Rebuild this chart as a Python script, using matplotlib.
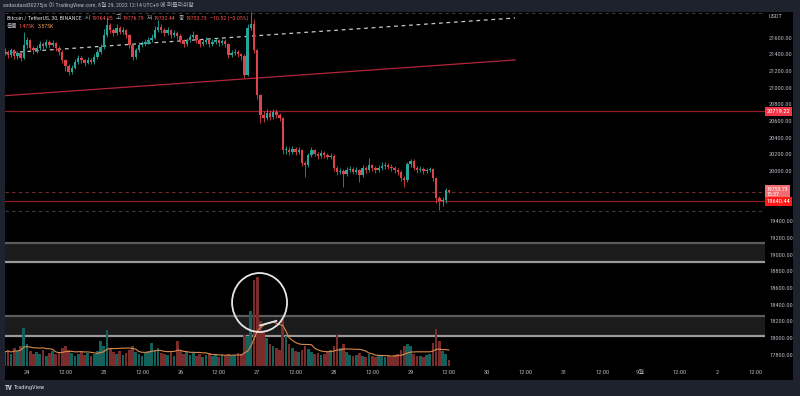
import numpy as np
import pandas as pd
import matplotlib
matplotlib.use("Agg")
import matplotlib.pyplot as plt
import matplotlib.transforms as mtransforms
from matplotlib import font_manager as fm
from matplotlib.patches import Rectangle, Ellipse

installed = {f.name for f in fm.fontManager.ttflist}
base_font = next((f for f in ['Liberation Sans Narrow', 'Roboto Condensed', 'Liberation Sans']
                  if f in installed), 'DejaVu Sans')
plt.rcParams['font.family'] = [base_font, 'Noto Sans CJK KR', 'DejaVu Sans']

# Data -----

# hourly candles, first one opens Aug 23 17:00 (hours counted from Aug 24 00:00)
start_hour = -7
first_open = 21440
closes = [21428, 21392, 21452, 21380, 21416, 21356, 21512, 21572, 21476, 21452,
          21476, 21524, 21500, 21548, 21512, 21536, 21476, 21428, 21332, 21260,
          21188, 21236, 21308, 21356, 21332, 21296, 21332, 21308, 21368, 21428,
          21488, 21632, 21752, 21692, 21656, 21716, 21668, 21692, 21632, 21512,
          21368, 21452, 21512, 21524, 21548, 21572, 21596, 21692, 21728, 21692,
          21656, 21692, 21632, 21656, 21620, 21572, 21524, 21572, 21608, 21632,
          21572, 21524, 21548, 21572, 21524, 21548, 21572, 21536, 21560, 21524,
          21392, 21416, 21428, 21404, 21380, 21152, 21716, 21764, 21452, 20912,
          20672, 20636, 20696, 20648, 20708, 20672, 20636, 20252, 20252, 20228,
          20264, 20228, 20252, 20096, 20072, 20192, 20252, 20204, 20180, 20216,
          20192, 20168, 20180, 20036, 19988, 20000, 19964, 20012, 20024, 19988,
          20012, 19952, 20036, 20012, 20072, 20036, 20012, 20036, 20060, 20072,
          20048, 20036, 20012, 19988, 19916, 19892, 20084, 20120, 20036, 20012,
          20024, 19999, 20012, 20024, 19916, 19676, 19640, 19652, 19772, 19753.73]
highs = [21480, 21450, 21480, 21470, 21440, 21430, 21670, 21610, 21590, 21500,
         21510, 21560, 21550, 21590, 21570, 21570, 21550, 21500, 21450, 21350,
         21280, 21270, 21340, 21390, 21380, 21350, 21370, 21360, 21400, 21460,
         21520, 21700, 21850, 21780, 21720, 21760, 21740, 21730, 21710, 21650,
         21530, 21480, 21550, 21560, 21580, 21610, 21640, 21740, 21810, 21760,
         21720, 21730, 21710, 21690, 21680, 21640, 21590, 21600, 21640, 21680,
         21650, 21590, 21580, 21610, 21590, 21580, 21600, 21590, 21590, 21580,
         21540, 21450, 21460, 21450, 21420, 21400, 21760, 21905, 21830, 21470,
         20930, 20720, 20740, 20730, 20750, 20740, 20700, 20650, 20300, 20290,
         20300, 20290, 20290, 20270, 20120, 20220, 20290, 20270, 20230, 20250,
         20240, 20220, 20220, 20200, 20060, 20040, 20030, 20050, 20060, 20050,
         20050, 20030, 20070, 20060, 20156, 20090, 20060, 20070, 20110, 20110,
         20100, 20080, 20060, 20040, 20010, 19940, 20110, 20144, 20140, 20060,
         20060, 20050, 20040, 20050, 20040, 19930, 19700, 19690, 19800, 19776.79]
lows = [21390, 21360, 21370, 21340, 21350, 21320, 21340, 21480, 21450, 21410,
        21420, 21450, 21470, 21480, 21480, 21490, 21440, 21390, 21300, 21200,
        21150, 21170, 21220, 21290, 21300, 21260, 21280, 21280, 21290, 21350,
        21410, 21470, 21610, 21660, 21620, 21630, 21640, 21650, 21600, 21480,
        21330, 21350, 21430, 21490, 21500, 21530, 21550, 21580, 21670, 21660,
        21620, 21630, 21600, 21610, 21590, 21540, 21490, 21500, 21550, 21590,
        21540, 21490, 21500, 21530, 21490, 21500, 21520, 21500, 21510, 21490,
        21360, 21370, 21390, 21370, 21330, 21116, 21140, 21690, 21420, 20860,
        20576, 20590, 20610, 20610, 20620, 20640, 20600, 20200, 20210, 20190,
        20200, 20190, 20200, 20060, 19928, 20050, 20170, 20180, 20150, 20160,
        20160, 20140, 20140, 20000, 19950, 19960, 19808, 19940, 19990, 19960,
        19960, 19868, 19930, 19980, 19990, 20000, 19980, 19990, 20010, 20030,
        20020, 20000, 19980, 19950, 19880, 19808, 19870, 20050, 20010, 19980,
        19990, 19970, 19980, 19990, 19880, 19620, 19532, 19580, 19620, 19732.44]
volumes = [3.5, 4.0, 3.0, 4.5, 3.75, 5.0, 9.5, 5.5, 3.75, 3.0,
           3.5, 3.0, 4.0, 2.5, 3.25, 3.75, 3.0, 3.5, 4.5, 5.0,
           4.0, 3.25, 2.5, 3.0, 3.5, 2.75, 3.25, 2.5, 3.0, 3.75,
           6.25, 5.0, 9.0, 4.5, 3.5, 3.0, 3.75, 2.75, 3.25, 4.0,
           5.0, 3.5, 3.0, 2.5, 3.25, 3.75, 5.75, 4.0, 4.5, 3.25,
           3.0, 2.75, 3.5, 2.5, 6.25, 3.75, 3.0, 3.5, 2.75, 3.25,
           2.5, 3.0, 2.25, 2.75, 3.25, 2.5, 3.0, 2.25, 2.75, 2.5,
           3.0, 2.5, 2.75, 3.25, 3.0, 7.75, 7.5, 13.75, 21.5, 22.25,
           11.25, 8.75, 7.0, 5.5, 5.0, 4.5, 4.0, 11.75, 7.5, 5.5,
           4.5, 3.75, 3.5, 4.0, 5.0, 4.25, 3.5, 3.0, 3.25, 2.75,
           3.0, 3.5, 4.0, 5.0, 7.75, 4.5, 5.5, 3.5, 2.75, 2.5,
           2.75, 3.25, 2.5, 2.25, 3.0, 2.5, 2.25, 2.75, 2.5, 2.25,
           2.5, 2.25, 2.75, 3.0, 4.0, 5.0, 5.5, 5.0, 3.0, 2.5,
           2.5, 2.25, 2.75, 3.0, 5.75, 9.25, 6.25, 3.75, 3.0, 1.475]

# drawings on the chart
trend_x = [-6.9, 152.7]
white_trend_y = [21417, 21836]
red_trend_y = [20905, 21333]
level_resist = 20719.22
level_last = 19753.73
level_support = 19640.44
level_low = 19520
level_top = 21900
zones = [(18914, 19142), (18020, 18267)]

price_ticks = list(range(17800, 21601, 200))
hidden_ticks = [19600, 19800]   # covered by the price tags
time_ticks = list(range(0, 229, 12))
time_labels = ["24", "12:00", "25", "12:00", "26", "12:00", "27", "12:00", "28", "12:00",
               "29", "12:00", "30", "12:00", "31", "12:00", "9월", "12:00", "2", "12:00"]

header = "asdasdasd30275jis 이 TradingView.com, 8월 29, 2022 12:14 UTC+9 에 퍼블리쉬함"
legend_row1 = [("Bitcoin / TetherUS, 30, BINANCE", 'title'), ("시", 'lab'), ("19764.25", 'val'),
               ("고", 'lab'), ("19776.79", 'val'), ("저", 'lab'), ("19732.44", 'val'),
               ("종", 'lab'), ("19753.73", 'val'), ("−10.52 (−0.05%)", 'val')]
legend_row2 = [("볼륨", 'lab'), ("1.475K", 'val'), ("3.575K", 'ma')]

# Plot -----

UP, DOWN = '#26a69a', '#dc4449'
TXT = '#b2b5be'
W, H = 800, 396

fig = plt.figure(figsize=(8, 3.96), dpi=100, facecolor='#1e222d')
fig.patches.append(Rectangle((5 / W, 1 - 380 / H), 788 / W, 368 / H, transform=fig.transFigure,
                             facecolor='black', edgecolor='none', zorder=-5))
ax = fig.add_axes([5 / W, 1 - 366 / H, 760 / W, 354 / H])
ax.set_facecolor('black')

hours = np.arange(len(closes)) + start_hour
closes = np.array(closes, dtype=float)
opens = np.r_[first_open, closes[:-1]]
highs = np.array(highs, dtype=float)
lows = np.array(lows, dtype=float)
up = closes >= opens
colors = np.where(up, UP, DOWN)

# zones
for lo, hi in zones:
    ax.axhspan(lo, hi, color='#1b1b1b', zorder=1, lw=0)
    ax.axhline(hi, color='#5c5c5c', lw=1.6, zorder=1.5)
    ax.axhline(lo, color='#9a9a9a', lw=1.6, zorder=1.5)

# volume overlay (in axes fraction)
vtop = 88.5
blend = mtransforms.blended_transform_factory(ax.transData, ax.transAxes)
vcol = np.where(up, '#14605a', '#7a2b2c')
ax.bar(hours, np.array(volumes) / vtop, width=0.85, color=vcol, transform=blend, zorder=2, lw=0)
vol_ma = pd.Series(volumes).rolling(10, min_periods=1).mean()
ax.plot(hours, vol_ma / vtop, color='#d9894a', lw=0.8, transform=blend, zorder=2.5)

# lines
ax.plot(trend_x, white_trend_y, color='#c8c8c8', lw=0.9, ls=(0, (3, 3)), zorder=3)
ax.plot(trend_x, red_trend_y, color='#b3263a', lw=0.9, zorder=3)
ax.axhline(level_resist, color='#8e1c22', lw=0.9, zorder=3)
ax.axhline(level_last, color='#7a2a2e', lw=0.8, ls=(0, (3, 3)), zorder=3)
ax.axhline(level_support, color='#8e1c22', lw=0.9, zorder=3)
ax.axhline(level_low, color='#3c3c3c', lw=0.8, ls=(0, (3, 3)), zorder=3)
ax.axhline(level_top, color='#3c3c3c', lw=0.8, ls=(0, (3, 3)), zorder=3)

# candles
ax.vlines(hours, lows, highs, colors=colors, lw=0.6, zorder=4)
body = np.maximum(np.abs(closes - opens), 8)
ax.bar(hours, body, bottom=np.minimum(opens, closes), width=0.75, color=colors, lw=0, zorder=4)

# hand drawn circle around the volume spike
ax.add_patch(Ellipse((72.75, 18425), 17.2, 707, fill=False, edgecolor='#e6e6e6', lw=1.3, zorder=5))
ax.plot([72.9, 78.0], [18150, 18205], color='#e6e6e6', lw=1.3, zorder=5)

ax.set_xlim(-6.9, 230.9)
ax.set_ylim(17664, 21908)
for s in ax.spines.values():
    s.set_visible(False)

ax.yaxis.tick_right()
ax.set_yticks(price_ticks)
ax.set_yticklabels(["" if p in hidden_ticks else f"{p:.2f}" for p in price_ticks])
ax.set_xticks(time_ticks)
ax.set_xticklabels(time_labels)
ax.tick_params(axis='both', length=0, labelsize=4.6, colors=TXT)
ax.tick_params(axis='y', pad=3)
ax.tick_params(axis='x', pad=3)

# price tags on the axis
ytr = mtransforms.blended_transform_factory(ax.transAxes, ax.transData)
def tag(price, text, face, size=4.6):
    ax.text(1.002, price, text, transform=ytr, ha='left', va='center', fontsize=size, color='white',
            linespacing=1.0, bbox=dict(boxstyle='square,pad=0.3', facecolor=face, edgecolor='none'),
            zorder=10, clip_on=False)

tag(level_resist, f"{level_resist:.2f}", '#f23645')
tag(level_last, f"{level_last:.2f}\n15:37", '#f26d72', size=4.2)
tag(level_support, f"{level_support:.2f}", '#ff1a1a')

def ftext(x, y, s, color=TXT, size=4.6, **kw):
    return fig.text(x / W, 1 - y / H, s, color=color, fontsize=size, va='center', ha='left', **kw)

ftext(769, 17, "USDT")
ftext(3, 5, header, size=4.2)
ftext(5, 388, "TV", color='#d1d4dc', size=5, weight='bold')
ftext(14, 388, "TradingView", color='#d1d4dc', size=4.6)

# legend rows, laid out one piece after the other
RED = '#ef5350'
piece_color = {'title': '#d1d4dc', 'lab': TXT, 'val': RED, 'ma': '#f0a050'}
renderer = fig.canvas.get_renderer()
for row, y in [(legend_row1, 18), (legend_row2, 26)]:
    x = 7
    for s, kind in row:
        t = ftext(x, y, s, color=piece_color[kind], size=4.2)
        bb = t.get_window_extent(renderer)
        x = bb.x1 + (1.2 if kind == 'lab' else 3.0)

fig.savefig("out.png", dpi=100, facecolor=fig.get_facecolor())
